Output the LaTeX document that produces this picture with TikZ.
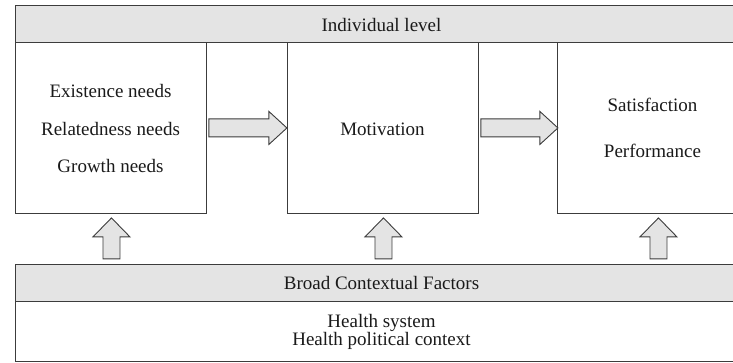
\documentclass[tikz,border=0pt]{standalone}
\usepackage{fontspec}
\setmainfont{Liberation Serif}
\usetikzlibrary{calc}
\definecolor{linegray}{HTML}{3C3C3C}
\definecolor{bandgray}{HTML}{E4E4E4}
\definecolor{txt}{HTML}{1A1A1A}
\begin{document}
\begin{tikzpicture}[x=1pt,y=-1pt,
  frame/.style={draw=linegray, line width=0.9pt, fill=white, inner sep=0pt, anchor=north west},
  band/.style={frame, fill=bandgray},
  blk/.style={draw=linegray, line width=0.9pt, fill=bandgray, line join=miter},
  lbl/.style={font=\fontsize{19}{22}\selectfont, anchor=base, inner sep=0pt, text=txt}]
\useasboundingbox (0,0) rectangle (733,363);
\clip (0,0) rectangle (733,363);
% boxes
\node[frame, minimum width=191pt, minimum height=171pt] (L) at (15,42) {};
\node[frame, minimum width=191pt, minimum height=171pt] (M) at (287,42) {};
\node[frame, minimum width=191pt, minimum height=171pt] (R) at (557,42) {};
\node[band, minimum width=733pt, minimum height=37pt] (top) at (15,5) {};
\node[frame, minimum width=733pt, minimum height=60pt] (ctx) at (15,301) {};
\node[band, minimum width=733pt, minimum height=37pt] (bot) at (15,264) {};
% labels
\node[lbl] (tIL) at (381.5,32) {Individual level};
\node[lbl] (tE) at (110.5,98) {Existence needs};
\node[lbl] (tR) at (110.5,136) {Relatedness needs};
\node[lbl] (tG) at (110.5,173) {Growth needs};
\node[lbl] (tM) at (382.5,136) {Motivation};
\node[lbl] (tS) at (652.5,112) {Satisfaction};
\node[lbl] (tP) at (652.5,158) {Performance};
\node[lbl] (tB) at (381.5,289) {Broad Contextual Factors};
\node[lbl] (tH1) at (381.5,327) {Health system};
\node[lbl] (tH2) at (381.5,345) {Health political context};
% horizontal block arrows
\draw[blk] ($(L.east)+(2,-9)$) -- ++(60,0) -- ++(0,-7.5) -- ++(18,16.5) -- ++(-18,16.5) -- ++(0,-7.5) -- ++(-60,0) -- cycle;
\draw[blk] ($(M.east)+(2,-9)$) -- ++(59,0) -- ++(0,-7.5) -- ++(18,16.5) -- ++(-18,16.5) -- ++(0,-7.5) -- ++(-59,0) -- cycle;
% vertical block arrows
\draw[blk] ($(L.south)+(-8,45)$) -- ++(0,-22) -- ++(-10,0) -- ++(18.5,-19) -- ++(18.5,19) -- ++(-10,0) -- ++(0,22) -- cycle;
\draw[blk] ($(M.south)+(-8,45)$) -- ++(0,-22) -- ++(-10,0) -- ++(18.5,-19) -- ++(18.5,19) -- ++(-10,0) -- ++(0,22) -- cycle;
\draw[blk] ($(R.south)+(-3,45)$) -- ++(0,-22) -- ++(-10,0) -- ++(18.5,-19) -- ++(18.5,19) -- ++(-10,0) -- ++(0,22) -- cycle;
\end{tikzpicture}
\end{document}
